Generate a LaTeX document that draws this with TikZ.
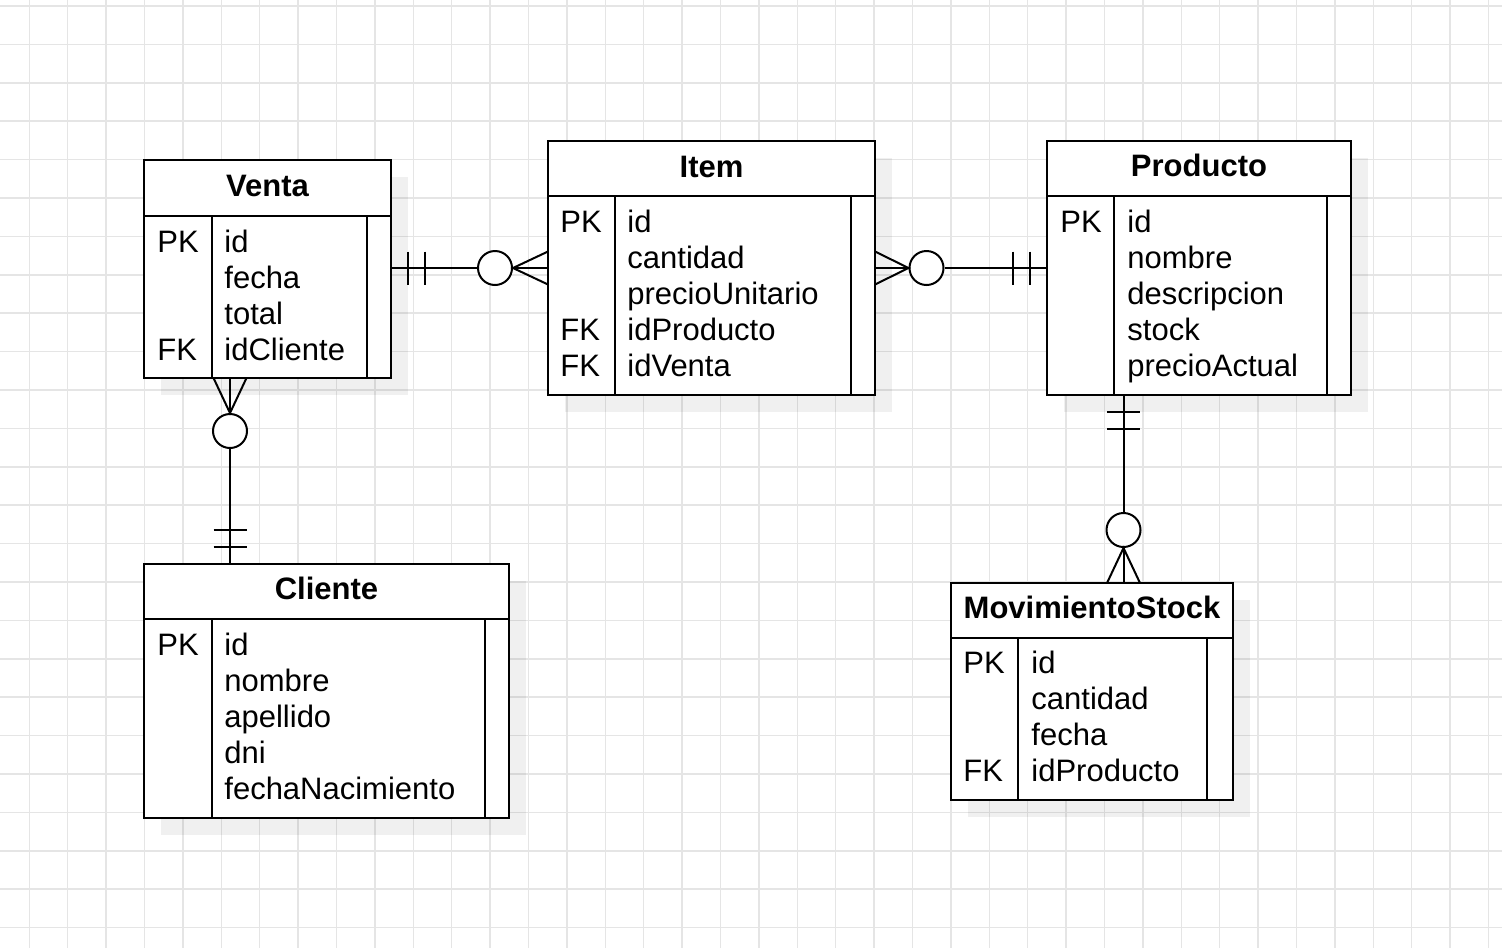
\documentclass[tikz,border=0pt]{standalone}
\usepackage{fontspec}
\setmainfont{Liberation Sans}
\begin{document}
\begin{tikzpicture}[x=0.5pt,y=0.5pt,yscale=-1,xscale=1,
  gridline/.style={draw=black!10, line width=0.75pt},
  shd/.style={fill=black, fill opacity=0.06},
  tbl/.style={draw, line width=1.35pt, fill=white, anchor=north west, inner sep=0pt, outer sep=0pt},
  sep/.style={line width=1.35pt},
  conn/.style={line width=1pt},
  opt/.style={draw, circle, line width=1pt, fill=white, inner sep=0pt, minimum size=17pt},
  ttl/.style={font=\fontsize{15.5}{18}\selectfont\bfseries, anchor=base, inner sep=0pt},
  fld/.style={font=\fontsize{15.5}{18}\selectfont, anchor=base west, inner sep=0pt}]
\useasboundingbox (0,0) rectangle (1502,948);

%Background grid
\foreach \i in {0,...,38} \draw[gridline] ({29.3+38.4*\i},0) -- ({29.3+38.4*\i},948);
\foreach \j in {0,...,24} \draw[gridline] (0,{6+38.4*\j}) -- (1502,{6+38.4*\j});

%Shadows
\fill[shd] (161,177) rectangle (408,395);
\fill[shd] (565,158) rectangle (892,412);
\fill[shd] (1064,158) rectangle (1368,412);
\fill[shd] (161,581) rectangle (526,835);
\fill[shd] (968,600) rectangle (1250,817);

%Shape: Table Venta
\node[tbl, minimum width=123.5pt, minimum height=109pt] (venta) at (144,160) {};
\draw[sep] (144,216) -- (391,216);
\draw[sep] (212,216) -- (212,378);
\draw[sep] (367,216) -- (367,378);
% Text Node
\node[ttl] (venta-title) at (267.5,196.7) {Venta};
\node[fld] (venta-pk) at (157,252.3) {PK};
\node[fld] (venta-fk) at (157,360.3) {FK};
\foreach \t [count=\i from 0] in {id,fecha,total,idCliente}
  \node[fld] (venta-\i) at (224,{252.3+36*\i}) {\t};

%Shape: Table Item
\node[tbl, minimum width=163.5pt, minimum height=127pt] (item) at (548,141) {};
\draw[sep] (548,196) -- (875,196);
\draw[sep] (615,196) -- (615,395);
\draw[sep] (851,196) -- (851,395);
% Text Node
\node[ttl] (item-title) at (711.5,177.7) {Item};
\node[fld] (item-pk) at (560,232.3) {PK};
\node[fld] (item-fk1) at (560,340.3) {FK};
\node[fld] (item-fk2) at (560,376.3) {FK};
\foreach \t [count=\i from 0] in {id,cantidad,precioUnitario,idProducto,idVenta}
  \node[fld] (item-\i) at (627,{232.3+36*\i}) {\t};

%Shape: Table Producto
\node[tbl, minimum width=152pt, minimum height=127pt] (producto) at (1047,141) {};
\draw[sep] (1047,196) -- (1351,196);
\draw[sep] (1114,196) -- (1114,395);
\draw[sep] (1327,196) -- (1327,395);
% Text Node
\node[ttl] (producto-title) at (1199,176.7) {Producto};
\node[fld] (producto-pk) at (1060,232.3) {PK};
\foreach \t [count=\i from 0] in {id,nombre,descripcion,stock,precioActual}
  \node[fld] (producto-\i) at (1127,{232.3+36*\i}) {\t};

%Shape: Table Cliente
\node[tbl, minimum width=182.5pt, minimum height=127pt] (cliente) at (144,564) {};
\draw[sep] (144,619) -- (509,619);
\draw[sep] (212,619) -- (212,818);
\draw[sep] (485,619) -- (485,818);
% Text Node
\node[ttl] (cliente-title) at (326.5,599.3) {Cliente};
\node[fld] (cliente-pk) at (157,655) {PK};
\foreach \t [count=\i from 0] in {id,nombre,apellido,dni,fechaNacimiento}
  \node[fld] (cliente-\i) at (224,{655+36*\i}) {\t};

%Shape: Table MovimientoStock
\node[tbl, minimum width=141pt, minimum height=108.5pt] (movimiento) at (951,583) {};
\draw[sep] (951,638) -- (1233,638);
\draw[sep] (1018,638) -- (1018,800);
\draw[sep] (1207,638) -- (1207,800);
% Text Node
\node[ttl] (movimiento-title) at (1092,618.3) {MovimientoStock};
\node[fld] (movimiento-pk) at (963,673.3) {PK};
\node[fld] (movimiento-fk) at (963,781.3) {FK};
\foreach \t [count=\i from 0] in {id,cantidad,fecha,idProducto}
  \node[fld] (movimiento-\i) at (1031,{673.3+36*\i}) {\t};

%Relation Venta -- Item
\node[opt] (o-vi) at (495,268) {};
\draw[conn] (venta.east |- o-vi) -- (o-vi);
\draw[conn] (408,251.5) -- (408,284.5);
\draw[conn] (425,251.5) -- (425,284.5);
\draw[conn] (o-vi) -- (item.west);
\draw[conn] ([yshift=8.25pt]item.west) -- (o-vi.east) -- ([yshift=-8.25pt]item.west);

%Relation Item -- Producto
\node[opt] (o-ip) at (926.5,268) {};
\draw[conn] (item.east) -- (o-ip);
\draw[conn] ([yshift=8.25pt]item.east) -- (o-ip.west) -- ([yshift=-8.25pt]item.east);
\draw[conn] (o-ip) -- (producto.west);
\draw[conn] (1013,251.5) -- (1013,284.5);
\draw[conn] (1030,251.5) -- (1030,284.5);

%Relation Venta -- Cliente
\node[opt] (o-vc) at (230,431) {};
\coordinate (vc-l) at (213.5,378);
\coordinate (vc-r) at (246.5,378);
\draw[conn] (venta.south -| o-vc) -- (o-vc);
\draw[conn] (vc-l) -- (o-vc.north) -- (vc-r);
\draw[conn] (o-vc) -- (cliente.north -| o-vc);
\draw[conn] (213.5,530) -- (246.5,530);
\draw[conn] (213.5,547) -- (246.5,547);

%Relation Producto -- MovimientoStock
\node[opt] (o-pm) at (1123.5,530) {};
\coordinate (pm-l) at (1107,583);
\coordinate (pm-r) at (1140,583);
\draw[conn] (producto.south -| o-pm) -- (o-pm);
\draw[conn] (1107,412) -- (1140,412);
\draw[conn] (1107,429) -- (1140,429);
\draw[conn] (o-pm) -- (movimiento.north -| o-pm);
\draw[conn] (pm-l) -- (o-pm.south) -- (pm-r);

\end{tikzpicture}
\end{document}
